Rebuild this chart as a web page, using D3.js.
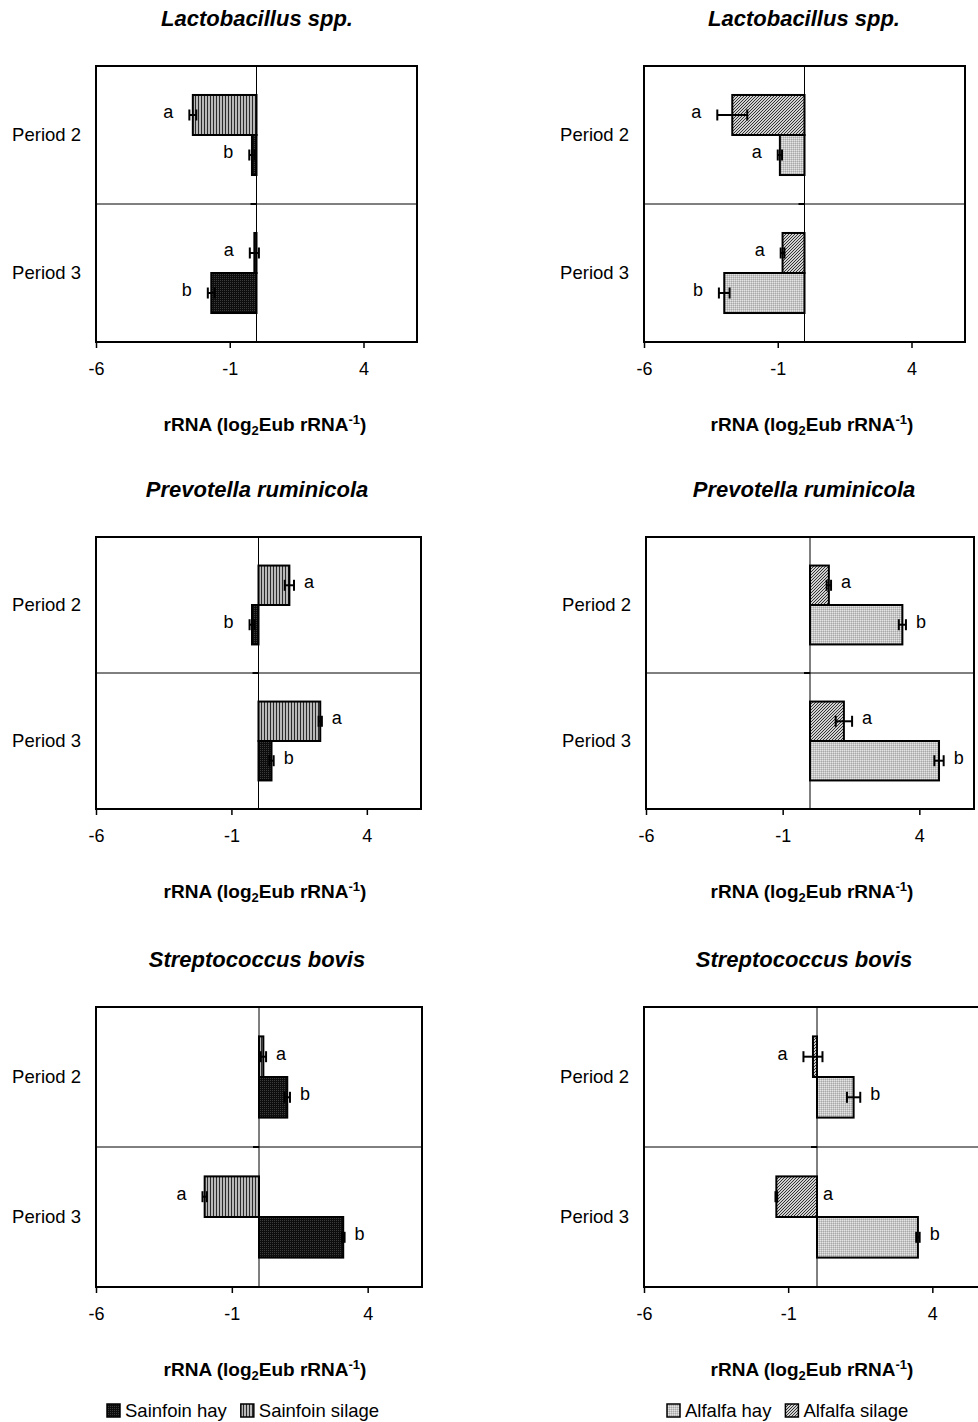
<!DOCTYPE html>
<html>
<head>
<meta charset="utf-8">
<script src="https://cdn.jsdelivr.net/npm/d3@7"></script>
<style>
  body { margin: 0; background: #fff; }
  text { font-family: "Liberation Sans", Arial, sans-serif; fill: #000; }
</style>
</head>
<body>
<div id="chart-area"></div>
<script>
// ---- data (log2 Eub rRNA^-1), [Period 2, Period 3] per species ----
const species = ["Lactobacillus spp.", "Prevotella ruminicola", "Streptococcus bovis"]
const periods = ["Period 2", "Period 3"]
const tickValues = [-6, -1, 4]

const sainfoinSilage = [[-2.38, -0.08], [1.14, 2.28], [0.16, -2.0]]
const sainfoinSilageErr = [[0.13, 0.17], [0.17, 0.06], [0.1, 0.08]]
const sainfoinSilageSig = [["a", "a"], ["a", "a"], ["a", "a"]]

const sainfoinHay = [[-0.17, -1.69], [-0.24, 0.48], [1.04, 3.1]]
const sainfoinHayErr = [[0.1, 0.13], [0.09, 0.08], [0.1, 0.05]]
const sainfoinHaySig = [["b", "b"], ["b", "b"], ["b", "b"]]

const alfalfaSilage = [[-2.7, -0.82], [0.69, 1.24], [-0.14, -1.41]]
const alfalfaSilageErr = [[0.56, 0.07], [0.08, 0.3], [0.33, 0.03]]
const alfalfaSilageSig = [["a", "a"], ["a", "a"], ["a", "a"]]

const alfalfaHay = [[-0.92, -3.0], [3.38, 4.72], [1.27, 3.5]]
const alfalfaHayErr = [[0.08, 0.2], [0.13, 0.17], [0.23, 0.06]]
const alfalfaHaySig = [["a", "b"], ["b", "b"], ["b", "b"]]

// letters that Excel put just right of the zero line instead of past the error bar
const sigNextToZero = ["Alfalfa silage|2|1"]

const WIDTH = 978
const HEIGHT = 1422

const svg = d3.select("#chart-area").append("svg")
  .attr("width", WIDTH)
  .attr("height", HEIGHT)

// fill patterns
const defs = svg.append("defs")

const pHay = defs.append("pattern").attr("id", "sainfoinHay")
  .attr("patternUnits", "userSpaceOnUse").attr("width", 2).attr("height", 2)
pHay.append("rect").attr("width", 2).attr("height", 2).attr("fill", "#0d0d0d")
pHay.append("rect").attr("width", 1).attr("height", 1).attr("fill", "#3c3c3c")

const pSil = defs.append("pattern").attr("id", "sainfoinSilage")
  .attr("patternUnits", "userSpaceOnUse").attr("width", 3).attr("height", 3)
pSil.append("rect").attr("width", 3).attr("height", 3).attr("fill", "#b8b8b8")
pSil.append("rect").attr("width", 1).attr("height", 3).attr("fill", "#2a2a2a")

const aHay = defs.append("pattern").attr("id", "alfalfaHay")
  .attr("patternUnits", "userSpaceOnUse").attr("width", 2).attr("height", 2)
aHay.append("rect").attr("width", 2).attr("height", 2).attr("fill", "#c6c6c6")
aHay.append("rect").attr("width", 1).attr("height", 1).attr("fill", "#e4e4e4")
aHay.append("rect").attr("x", 1).attr("y", 1).attr("width", 1).attr("height", 1).attr("fill", "#a8a8a8")

const aSil = defs.append("pattern").attr("id", "alfalfaSilage")
  .attr("patternUnits", "userSpaceOnUse").attr("width", 3).attr("height", 3)
aSil.append("rect").attr("width", 3).attr("height", 3).attr("fill", "#d0d0d0")
aSil.append("path").attr("d", "M-1,1 L1,-1 M0,3 L3,0 M2,4 L4,2")
  .attr("stroke", "#333").attr("stroke-width", 1)

// panel boxes (the right-hand bottom one runs off the page in the original)
const boxes = [
  { x0: 96, x1: 417, y0: 66, y1: 342 }, { x0: 644, x1: 965, y0: 66, y1: 342 },
  { x0: 96, x1: 421, y0: 537, y1: 809 }, { x0: 646, x1: 974, y0: 537, y1: 809 },
  { x0: 96, x1: 422, y0: 1007, y1: 1287 }, { x0: 644, x1: 990, y0: 1007, y1: 1287 }
]
const colCenter = [257, 804]

const feeds = [
  [
    { name: "Sainfoin silage", fill: "url(#sainfoinSilage)", v: sainfoinSilage, e: sainfoinSilageErr, s: sainfoinSilageSig },
    { name: "Sainfoin hay", fill: "url(#sainfoinHay)", v: sainfoinHay, e: sainfoinHayErr, s: sainfoinHaySig }
  ],
  [
    { name: "Alfalfa silage", fill: "url(#alfalfaSilage)", v: alfalfaSilage, e: alfalfaSilageErr, s: alfalfaSilageSig },
    { name: "Alfalfa hay", fill: "url(#alfalfaHay)", v: alfalfaHay, e: alfalfaHayErr, s: alfalfaHaySig }
  ]
]

species.forEach((sp, si) => {
  feeds.forEach((series, ci) => {
    const b = boxes[si * 2 + ci]
    const g = svg.append("g")

    const x = d3.scaleLinear().domain([-6, 6]).range([b.x0, b.x1])
    const y = d3.scaleBand().domain(periods).range([b.y0, b.y1])
    const ySub = d3.scaleBand().domain(series.map(d => d.name))
      .range([0, y.bandwidth()]).paddingInner(0).paddingOuter(0.724)

    // title
    g.append("text")
      .attr("x", colCenter[ci])
      .attr("y", b.y0 - 40)
      .attr("text-anchor", "middle")
      .style("font-size", "22px")
      .style("font-weight", "bold")
      .style("font-style", "italic")
      .text(sp)

    // zero line and period divider
    g.append("line")
      .attr("x1", x(0)).attr("x2", x(0)).attr("y1", b.y0).attr("y2", b.y1)
      .attr("stroke", "#000").attr("stroke-width", 1)
    g.append("line")
      .attr("x1", b.x0).attr("x2", b.x1).attr("y1", y(periods[1])).attr("y2", y(periods[1]))
      .attr("stroke", "#000").attr("stroke-width", 1)
    g.append("line")
      .attr("x1", x(0) - 6).attr("x2", x(0)).attr("y1", y(periods[1])).attr("y2", y(periods[1]))
      .attr("stroke", "#000").attr("stroke-width", 2)

    const rows = []
    series.forEach(s => {
      periods.forEach((p, pi) => {
        rows.push({ name: s.name, fill: s.fill, period: p, pi: pi,
          value: s.v[si][pi], err: s.e[si][pi], sig: s.s[si][pi] })
      })
    })

    // bars
    g.selectAll("rect.bar").data(rows).enter().append("rect")
      .attr("class", "bar")
      .attr("x", d => x(Math.min(0, d.value)))
      .attr("y", d => y(d.period) + ySub(d.name))
      .attr("width", d => Math.abs(x(d.value) - x(0)))
      .attr("height", ySub.bandwidth())
      .attr("fill", d => d.fill)
      .attr("stroke", "#000")
      .attr("stroke-width", 2)

    // error bars
    const cy = d => y(d.period) + ySub(d.name) + ySub.bandwidth() / 2
    const eb = g.selectAll("g.err").data(rows).enter().append("g").attr("class", "err")
    eb.append("line")
      .attr("x1", d => x(d.value - d.err)).attr("x2", d => x(d.value + d.err))
      .attr("y1", cy).attr("y2", cy)
      .attr("stroke", "#000").attr("stroke-width", 2)
    eb.append("line")
      .attr("x1", d => x(d.value - d.err)).attr("x2", d => x(d.value - d.err))
      .attr("y1", d => cy(d) - 5.5).attr("y2", d => cy(d) + 5.5)
      .attr("stroke", "#000").attr("stroke-width", 2)
    eb.append("line")
      .attr("x1", d => x(d.value + d.err)).attr("x2", d => x(d.value + d.err))
      .attr("y1", d => cy(d) - 5.5).attr("y2", d => cy(d) + 5.5)
      .attr("stroke", "#000").attr("stroke-width", 2)

    // significance letters
    g.selectAll("text.sig").data(rows).enter().append("text")
      .attr("class", "sig")
      .attr("x", d => {
        if (sigNextToZero.includes(d.name + "|" + si + "|" + d.pi)) return x(0) + 11
        return d.value >= 0 ? x(d.value + d.err) + 15 : x(d.value - d.err) - 21
      })
      .attr("y", d => cy(d) + 3)
      .attr("text-anchor", "middle")
      .style("font-size", "18px")
      .text(d => d.sig)

    // frame
    g.append("rect")
      .attr("x", b.x0).attr("y", b.y0)
      .attr("width", b.x1 - b.x0).attr("height", b.y1 - b.y0)
      .attr("fill", "none").attr("stroke", "#000").attr("stroke-width", 2)

    // x axis
    const xAxis = g.append("g")
      .attr("transform", `translate(0, ${b.y1})`)
      .call(d3.axisBottom(x).tickValues(tickValues).tickFormat(d => String(d))
        .tickSize(6).tickPadding(14))
    xAxis.select(".domain").remove()
    xAxis.selectAll("line").attr("stroke-width", 1.5)
    xAxis.selectAll("text")
      .style("font-size", "18px")
      .style("font-family", "'Liberation Sans', Arial, sans-serif")

    // period labels
    const yAxis = g.append("g")
      .attr("transform", `translate(${b.x0}, 0)`)
      .call(d3.axisLeft(y).tickSize(0).tickPadding(15))
    yAxis.select(".domain").remove()
    yAxis.selectAll("text")
      .style("font-size", "18.5px")
      .style("font-family", "'Liberation Sans', Arial, sans-serif")

    // x label
    const lab = g.append("text")
      .attr("x", colCenter[ci] + 8)
      .attr("y", b.y1 + 89)
      .attr("text-anchor", "middle")
      .style("font-size", "19px")
      .style("font-weight", "bold")
    lab.append("tspan").text("rRNA (log")
    lab.append("tspan").attr("dy", 4).style("font-size", "13px").text("2")
    lab.append("tspan").attr("dy", -4).text("Eub rRNA")
    lab.append("tspan").attr("dy", -7).style("font-size", "13px").text("-1")
    lab.append("tspan").attr("dy", 7).text(")")
  })
})

// legends
const legendStart = [107, 667]
feeds.forEach((series, ci) => {
  const items = [series[1], series[0]]
  let lx = legendStart[ci]
  items.forEach(it => {
    svg.append("rect")
      .attr("x", lx).attr("y", 1404)
      .attr("width", 13).attr("height", 13)
      .attr("fill", it.fill).attr("stroke", "#000").attr("stroke-width", 1.5)
    const t = svg.append("text")
      .attr("x", lx + 18).attr("y", 1417)
      .style("font-size", "18.5px")
      .text(it.name)
    lx += 18 + t.node().getComputedTextLength() + 14
  })
})
</script>
</body>
</html>
